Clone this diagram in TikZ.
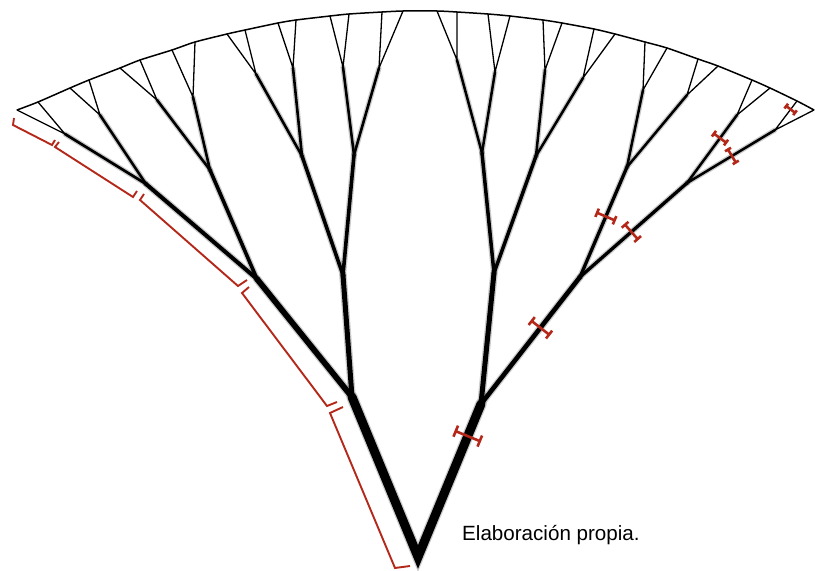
\documentclass[tikz,border=0pt]{standalone}
\usepackage{fontspec}
\setmainfont{Liberation Sans}
\usetikzlibrary{calc}
\definecolor{redmark}{RGB}{180,40,26}
\newcommand{\ibar}[5]{%
  \path let \p1=($(#2)-(#1)$), \n1={atan2(\y1,\x1)} in \pgfextra{\xdef\ibang{\n1}};
  \begin{scope}[shift={($(#1)!#3!(#2)$)}, rotate=\ibang]
    \draw[ibarst] (-#5pt,-#4pt) -- (#5pt,-#4pt) (0pt,-#4pt) -- (0pt,#4pt) (-#5pt,#4pt) -- (#5pt,#4pt);
  \end{scope}}
\begin{document}
\begin{tikzpicture}[x=1pt,y=-1pt,
  branch/.style={black, line cap=round, line join=round},
  glow/.style={black, opacity=0.2, line cap=round, line join=round},
  bracket/.style={redmark, line width=1.9pt, line join=miter},
  ibarst/.style={redmark, line width=2.6pt},
  rim/.style={black, line width=1.5pt}]
\useasboundingbox (0,0) rectangle (815,571);
% joints
\coordinate (root) at (418,557);
\coordinate (A) at (352,397);
\coordinate (B) at (481,404);
\coordinate (AL) at (257,279);
\coordinate (AR) at (343,275);
\coordinate (BL) at (494,273);
\coordinate (BR) at (580,277);
\coordinate (ALL) at (146,184);
\coordinate (ALR) at (210,170);
\coordinate (ARL) at (302,156);
\coordinate (ARR) at (354,155);
\coordinate (BLL) at (482,153);
\coordinate (BLR) at (536,156);
\coordinate (BRL) at (627,167);
\coordinate (BRR) at (687,183);
\coordinate (ALLL) at (65,134);
\coordinate (ALLR) at (100,115);
\coordinate (ALRL) at (157,100);
\coordinate (ALRR) at (193,97);
\coordinate (ARLL) at (256,74);
\coordinate (ARLR) at (293,68);
\coordinate (ARRL) at (343,67);
\coordinate (ARRR) at (379,68);
\coordinate (BLLL) at (457,60);
\coordinate (BLLR) at (495,72);
\coordinate (BLRL) at (545,70);
\coordinate (BLRR) at (583,78);
\coordinate (BRLL) at (643,90);
\coordinate (BRLR) at (687,95);
\coordinate (BRRL) at (737,115);
\coordinate (BRRR) at (775,130);
% tips on the rim
\foreach \i/\x/\y in {1/17/110,2/38/102,3/70/88,4/89/80,5/120/68,6/140/60,7/172/50,8/195/42,
  9/227/34,10/245/30,11/278/23,12/296/20,13/330/16,14/349/14,15/382/12,16/403/11,
  17/437/11,18/457/12,19/488/14,20/510/16,21/543/20,22/562/23,23/594/29,24/615/34,
  25/645/42,26/667/48,27/698/59,28/718/66,29/752/80,30/770/88,31/797/101,32/814/110}
  {\coordinate (t\i) at (\x,\y);}
% glow pass
\draw[glow, line width=11.5pt, line join=miter] (A) -- (root) -- (B);
\foreach \p/\q/\w in {A/AL/5.8, A/AR/5.0, B/BL/5.0, B/BR/4.6,
  AL/ALL/4.0, AL/ALR/3.6, AR/ARL/3.6, AR/ARR/3.6, BL/BLL/3.5, BL/BLR/3.5, BR/BRL/3.3, BR/BRR/3.3,
  ALL/ALLL/2.7, ALL/ALLR/2.6, ALR/ALRL/2.6, ALR/ALRR/2.6, ARL/ARLL/2.6, ARL/ARLR/2.6, ARR/ARRL/2.6, ARR/ARRR/2.6,
  BLL/BLLL/2.5, BLL/BLLR/2.5, BLR/BLRL/2.5, BLR/BLRR/2.5, BRL/BRLL/2.5, BRL/BRLR/2.5, BRR/BRRL/2.5, BRR/BRRR/2.5}
  {\pgfmathsetmacro\gw{\w+2.6}\draw[glow, line width=\gw pt] (\p) -- (\q);}
% rim
\draw[rim] plot[smooth, tension=0.45] coordinates {(t1) (t2) (t3) (t4) (t5) (t6) (t7) (t8) (t9) (t10) (t11) (t12) (t13) (t14) (t15) (t16) (t17) (t18) (t19) (t20) (t21) (t22) (t23) (t24) (t25) (t26) (t27) (t28) (t29) (t30) (t31) (t32)};
% branches
\draw[branch, line width=9pt, line join=miter] (A) -- (root) -- (B);
\foreach \p/\q/\w in {A/AL/5.8, A/AR/5.0, B/BL/5.0, B/BR/4.6,
  AL/ALL/4.0, AL/ALR/3.6, AR/ARL/3.6, AR/ARR/3.6, BL/BLL/3.5, BL/BLR/3.5, BR/BRL/3.3, BR/BRR/3.3,
  ALL/ALLL/2.7, ALL/ALLR/2.6, ALR/ALRL/2.6, ALR/ALRR/2.6, ARL/ARLL/2.6, ARL/ARLR/2.6, ARR/ARRL/2.6, ARR/ARRR/2.6,
  BLL/BLLL/2.5, BLL/BLLR/2.5, BLR/BLRL/2.5, BLR/BLRR/2.5, BRL/BRLL/2.5, BRL/BRLR/2.5, BRR/BRRL/2.5, BRR/BRRR/2.5}
  {\draw[branch, line width=\w pt] (\p) -- (\q);}
\foreach \p/\a/\b in {ALLL/1/2, ALLR/3/4, ALRL/5/6, ALRR/7/8, ARLL/9/10, ARLR/11/12, ARRL/13/14, ARRR/15/16,
  BLLL/17/18, BLLR/19/20, BLRL/21/22, BLRR/23/24, BRLL/25/26, BRLR/27/28, BRRL/29/30, BRRR/31/32}
  {\draw[branch, line width=1.3pt] (t\a) -- (\p) -- (t\b);}
% length brackets
\draw[bracket] (410,566) -- (395,568) -- (330,413) -- (343,407);
\draw[bracket] (337,402) -- (327,406) -- (242,293) -- (249,287);
\draw[bracket] (247,280) -- (238,286) -- (140,200) -- (144,194);
\draw[bracket] (137,191) -- (133,197) -- (55,147) -- (59,142);
\draw[bracket] (55,140) -- (52,145) -- (13,125) -- (14,118);
% width markers
\ibar{root}{B}{0.79}{13}{6}
\ibar{B}{BR}{0.60}{11}{5}
\ibar{BR}{BRL}{0.55}{9.5}{4.5}
\ibar{BR}{BRR}{0.48}{9.5}{4.5}
\ibar{BRR}{BRRL}{0.66}{7.5}{3.5}
\ibar{BRR}{BRRR}{0.51}{7.5}{3.5}
\ibar{BRRR}{t31}{0.71}{5.5}{3}
% credit
\node[anchor=base west, inner sep=0pt, font=\fontsize{20.6}{24}\selectfont] (credit) at (462,540) {Elaboración propia.};
\end{tikzpicture}
\end{document}
